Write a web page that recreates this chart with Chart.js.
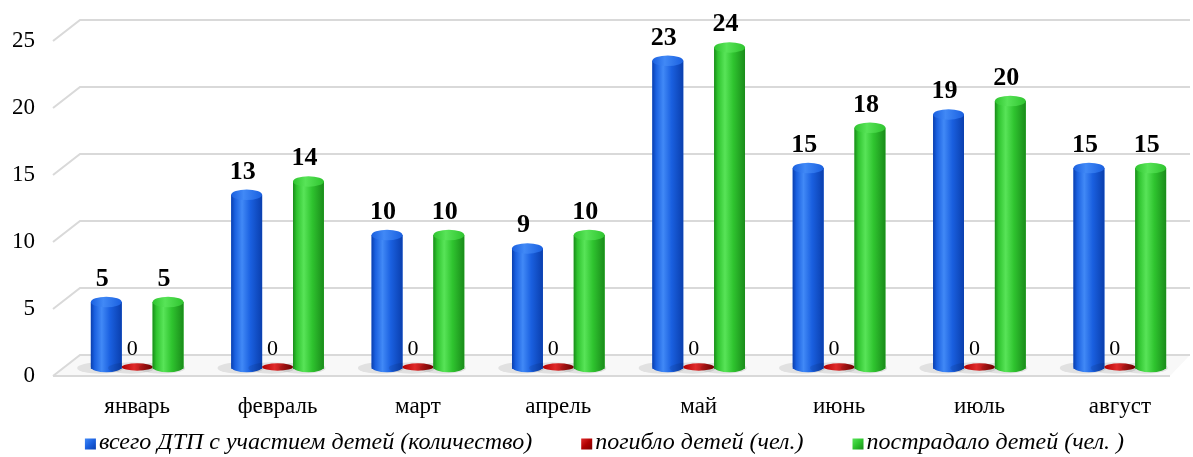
<!DOCTYPE html>
<html>
<head>
<meta charset="utf-8">
<script src="https://cdn.jsdelivr.net/npm/chart.js@4"></script>
<style>
  html, body { margin: 0; padding: 0; background: #fff; }
  #box { width: 1193px; height: 457px; }
</style>
</head>
<body>
<div id="box"><canvas id="grafico"></canvas></div>
<script>
// данные по месяцам
var meses = ['январь', 'февраль', 'март', 'апрель', 'май', 'июнь', 'июль', 'август'];
var totalDTP = [5, 13, 10, 9, 23, 15, 19, 15];
var pogiblo = [0, 0, 0, 0, 0, 0, 0, 0];
var postradalo = [5, 14, 10, 10, 24, 18, 20, 15];
var nombres = ['всего ДТП с участием детей (количество)', 'погибло детей (чел.)', 'пострадало детей (чел. )'];

var serif = "'Liberation Serif', 'Times New Roman', serif";

// colores de cada cilindro: borde oscuro, cuerpo, brillo
var tonos = [
    { dark: '#0a3fae', mid: '#1a60e0', light: '#4189f6' },
    { dark: '#7a0000', mid: '#b00000', light: '#e02a2a' },
    { dark: '#1a8c1a', mid: '#2fc42f', light: '#58e458' }
];

// pared del fondo y piso, dibujado con la escala Y
const paredFondo = {
    id: 'paredFondo',
    beforeDatasetsDraw(chart) {
        const c = chart.ctx, y = chart.scales.y, a = chart.chartArea;
        const dx1 = 14, dx2 = 13, dyF = 7, dyB = 14;
        c.save();
        // piso
        const y0 = y.getPixelForValue(0);
        c.fillStyle = '#f8f8f8';
        c.beginPath();
        c.moveTo(a.left - dx1, y0 + dyF);
        c.lineTo(a.left + dx2, y0 - dyB);
        c.lineTo(a.right, y0 - dyB);
        c.lineTo(a.right - 20, y0 + dyF);
        c.closePath();
        c.fill();
        c.strokeStyle = '#d9d9d9';
        c.lineWidth = 2;
        c.beginPath();
        c.moveTo(a.left - dx1, y0 + dyF);
        c.lineTo(a.right - 20, y0 + dyF);
        c.stroke();
        y.ticks.forEach(function (t) {
            const py = y.getPixelForValue(t.value);
            c.beginPath();
            c.moveTo(a.left - dx1, py + dyF);
            c.lineTo(a.left + dx2, py - dyB);
            c.lineTo(a.right, py - dyB);
            c.stroke();
        });
        c.restore();
    }
};

// cilindros y etiquetas
const cilindros = {
    id: 'cilindros',
    afterDatasetsDraw(chart) {
        const c = chart.ctx;
        c.save();
        chart.data.datasets.forEach(function (ds, i) {
            const meta = chart.getDatasetMeta(i);
            const t = tonos[i];
            meta.data.forEach(function (bar, j) {
                const w = bar.width, x0 = bar.x - w / 2, x1 = bar.x + w / 2;
                const ry = w * 0.17;
                const top = bar.y, base = bar.base - 2;
                // sombra en el piso
                c.fillStyle = 'rgba(0,0,0,0.09)';
                c.beginPath();
                c.ellipse(bar.x - 6, base + 1, w * 0.75, ry * 1.1, 0, 0, Math.PI * 2);
                c.fill();
                if (ds.data[j] === 0) {
                    const g0 = c.createLinearGradient(x0, 0, x1, 0);
                    g0.addColorStop(0, t.mid);
                    g0.addColorStop(0.4, t.light);
                    g0.addColorStop(1, t.dark);
                    c.fillStyle = g0;
                    c.beginPath();
                    c.ellipse(bar.x, base, w / 2, ry * 0.7, 0, 0, Math.PI * 2);
                    c.fill();
                    return;
                }
                const g = c.createLinearGradient(x0, 0, x1, 0);
                g.addColorStop(0, t.dark);
                g.addColorStop(0.12, t.mid);
                g.addColorStop(0.35, t.light);
                g.addColorStop(0.62, t.mid);
                g.addColorStop(1, t.dark);
                c.fillStyle = g;
                c.beginPath();
                c.moveTo(x0, top);
                c.lineTo(x0, base);
                c.ellipse(bar.x, base, w / 2, ry, 0, Math.PI, 0, true);
                c.lineTo(x1, top);
                c.closePath();
                c.fill();
                // tapa
                const gt = c.createLinearGradient(x0, 0, x1, 0);
                gt.addColorStop(0, t.mid);
                gt.addColorStop(0.4, t.light);
                gt.addColorStop(1, t.mid);
                c.fillStyle = gt;
                c.beginPath();
                c.ellipse(bar.x, top, w / 2, ry, 0, 0, Math.PI * 2);
                c.fill();
            });
        });
        // etiquetas de valores
        c.fillStyle = '#000';
        c.textAlign = 'center';
        c.textBaseline = 'alphabetic';
        chart.data.datasets.forEach(function (ds, i) {
            const meta = chart.getDatasetMeta(i);
            meta.data.forEach(function (bar, j) {
                if (ds.data[j] === 0) {
                    c.font = '22px ' + serif;
                    c.fillText('0', bar.x - 5, bar.base - 14);
                } else {
                    c.font = 'bold 26px ' + serif;
                    c.fillText(String(ds.data[j]), bar.x - 4, bar.y - 16);
                }
            });
        });
        c.restore();
    }
};

// la leyenda tiene padding grande entre items; altura fija y se coloca abajo
const moverLeyenda = {
    id: 'moverLeyenda',
    beforeLayout(chart) {
        const lg = chart.legend;
        if (lg && !lg._fijo) {
            const fitOrig = lg.fit;
            lg.fit = function () { fitOrig.call(this); this.height = 30; };
            lg._fijo = true;
        }
    },
    afterLayout(chart) {
        const lg = chart.legend;
        lg.top = 443 - 12 - lg.options.labels.padding;
        lg.bottom = chart.height;
        lg.height = lg.bottom - lg.top;
        lg.left += 5;
        lg.right += 5;
    },
    // cuadritos de la leyenda pegados al texto
    afterDraw(chart) {
        const lg = chart.legend, c = chart.ctx;
        const lo = lg.options.labels;
        c.save();
        lg.legendHitBoxes.forEach(function (hb, i) {
            const t = tonos[i];
            const bx = hb.left + lo.boxWidth + lo.font.size / 2 - 14;
            const by = hb.top + (hb.height - 11) / 2 + 1;
            const g = c.createLinearGradient(bx, by, bx + 11, by + 11);
            g.addColorStop(0, t.light);
            g.addColorStop(0.5, t.mid);
            g.addColorStop(1, t.dark);
            c.fillStyle = g;
            c.fillRect(bx, by, 11, 11);
        });
        c.restore();
    }
};

const ctx = document.getElementById('grafico').getContext('2d');
const grafico = new Chart(ctx, {
    type: 'bar',
    data: {
        labels: meses,
        datasets: [
            { label: nombres[0], data: totalDTP, backgroundColor: '#1a60e0' },
            { label: nombres[1], data: pogiblo, backgroundColor: '#d40000' },
            { label: nombres[2], data: postradalo, backgroundColor: '#2fc42f' }
        ]
    },
    options: {
        responsive: true,
        maintainAspectRatio: false,
        animation: false,
        barPercentage: 1,
        categoryPercentage: 0.66,
        layout: { padding: { top: 0, right: 3, left: 0, bottom: 6 } },
        plugins: {
            tooltip: { enabled: false },
            legend: {
                position: 'bottom',
                labels: {
                    color: '#000',
                    font: { family: serif, size: 24, style: 'italic' },
                    boxWidth: 11,
                    boxHeight: 11,
                    padding: 40,
                    generateLabels: function (chart) {
                        const items = Chart.defaults.plugins.legend.labels.generateLabels(chart);
                        items.forEach(function (it) {
                            it.fillStyle = 'rgba(0,0,0,0)';
                            it.strokeStyle = 'rgba(0,0,0,0)';
                            it.lineWidth = 0;
                        });
                        return items;
                    }
                }
            }
        },
        scales: {
            x: {
                afterFit: function (s) { s.height = 52; },
                grid: { display: false, drawTicks: false },
                border: { display: false },
                ticks: { color: '#000', font: { family: serif, size: 23 }, padding: 24 }
            },
            y: {
                min: 0,
                max: 25,
                afterFit: function (s) { s.width = 67; s.paddingTop = 34; s.paddingBottom = 10; },
                grid: { display: false, drawTicks: false },
                border: { display: false },
                ticks: { stepSize: 5, color: '#000', font: { family: serif, size: 23 }, padding: 32, labelOffset: 7 }
            }
        }
    },
    plugins: [paredFondo, cilindros, moverLeyenda]
});
</script>
</body>
</html>
